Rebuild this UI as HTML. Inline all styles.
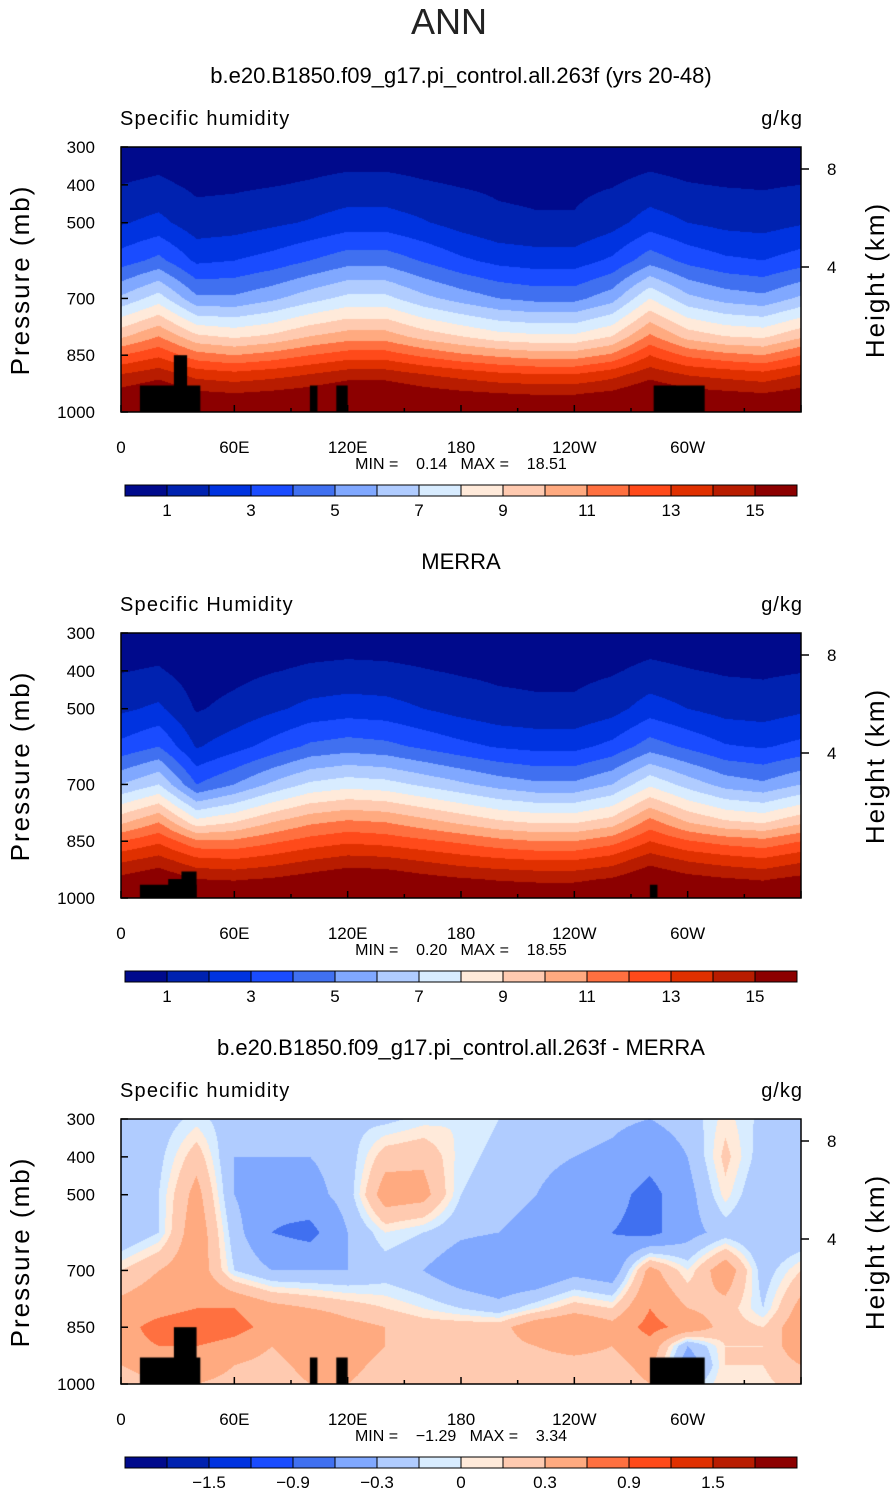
<!DOCTYPE html>
<html><head><meta charset="utf-8">
<style>
html,body{margin:0;padding:0;background:#fff;}
#root{position:relative;width:895px;height:1493px;overflow:hidden;font-family:"Liberation Sans",sans-serif;}
canvas{position:absolute;}
svg{position:absolute;left:0;top:0;}
svg text{white-space:pre;}
</style></head>
<body>
<div id="root">
<canvas id="c0" width="680" height="265" style="left:121px;top:147px"></canvas>
<canvas id="c1" width="680" height="265" style="left:121px;top:633px"></canvas>
<canvas id="c2" width="680" height="265" style="left:121px;top:1119px"></canvas>
<svg id="ov" width="895" height="1493"></svg>
</div>
<script>
const lons=[0,20,40,60,80,100,120,140,160,180,200,220,240,260,280,300,320,340,360];
const pres=[300,400,500,600,700,800,850,900,950,1000];
const modelQ=[
[.36,.44,.28,.3,.34,.4,.44,.44,.4,.36,.32,.3,.3,.34,.44,.38,.34,.32,.36],
[1.0,1.2,.8,.85,.95,1.1,1.3,1.3,1.1,.95,.85,.8,.8,.95,1.3,1.05,.95,.9,1.0],
[1.9,2.3,1.4,1.5,1.8,2.1,2.5,2.5,2.1,1.6,1.2,1.1,1.1,1.6,2.5,2.0,1.7,1.6,1.9],
[3.5,4.3,2.8,3.0,3.4,4.0,4.6,4.6,3.9,3.2,2.7,2.5,2.5,3.2,4.6,3.7,3.2,3.0,3.5],
[6.2,7.5,5.2,5.2,5.8,6.6,7.3,7.3,6.3,5.6,5.0,4.7,4.7,5.6,8.0,6.3,5.6,5.3,6.2],
[9.8,11.0,9.2,8.8,9.2,10.0,10.5,10.5,9.6,9.0,8.4,8.2,8.2,9.0,11.2,9.6,9.0,8.8,9.8],
[12.0,12.8,11.4,11.0,11.4,12.0,12.5,12.5,11.8,11.2,10.8,10.5,10.5,11.2,13.0,11.8,11.3,11.0,12.0],
[14.0,14.6,13.6,13.3,13.6,14.0,14.5,14.5,14.0,13.6,13.2,13.0,13.0,13.6,14.6,13.9,13.6,13.3,14.0],
[15.4,16.0,15.2,15.0,15.2,15.5,16.0,16.0,15.5,15.2,15.0,14.9,14.9,15.2,16.0,15.4,15.2,15.0,15.4],
[16.5,16.8,16.4,16.2,16.4,16.6,16.8,16.8,16.6,16.3,16.1,16.0,16.0,16.3,16.8,16.5,16.3,16.2,16.5]];
const merraQ=[
[.34,.4,.2,.26,.34,.42,.44,.42,.38,.34,.3,.28,.28,.34,.44,.38,.32,.3,.34],
[.95,1.1,.5,.7,.95,1.15,1.25,1.2,1.05,.9,.8,.75,.75,.9,1.25,1.05,.9,.85,.95],
[1.8,2.2,.9,1.3,1.8,2.3,2.5,2.4,2.0,1.6,1.3,1.2,1.2,1.6,2.5,2.0,1.6,1.5,1.8],
[3.3,4.0,1.9,2.6,3.4,4.2,4.5,4.3,3.8,3.3,2.9,2.7,2.7,3.3,4.5,3.8,3.1,2.9,3.3],
[6.0,7.0,4.0,5.0,6.2,7.2,7.6,7.4,6.8,6.2,5.6,5.2,5.2,6.0,7.8,6.6,5.6,5.2,6.0],
[9.8,11.0,8.4,9.0,10.0,10.8,11.2,11.0,10.4,9.8,9.2,8.9,8.9,9.5,11.4,10.0,9.2,8.9,9.8],
[12.0,12.8,11.2,11.2,11.8,12.4,12.8,12.6,12.2,11.8,11.3,11.0,11.0,11.6,13.0,12.1,11.6,11.3,12.0],
[13.8,14.4,13.3,13.1,13.5,14.0,14.4,14.3,13.9,13.5,13.2,13.0,13.0,13.5,14.6,13.9,13.5,13.2,13.8],
[15.3,15.9,15.0,14.9,15.1,15.5,15.9,15.8,15.4,15.1,14.9,14.8,14.8,15.1,16.0,15.4,15.1,14.9,15.3],
[16.4,16.7,16.3,16.1,16.3,16.6,16.8,16.7,16.5,16.2,16.0,15.9,15.9,16.2,16.8,16.4,16.2,16.1,16.4]];
const diffQ=[
[-0.2,-0.2,-0.05,-0.2,-0.2,-0.2,-0.15,-0.15,-0.05,0.0,-0.1,-0.15,-0.2,-0.25,-0.3,-0.2,0.05,-0.15,-0.2],
[-0.2,-0.15,0.2,-0.3,-0.3,-0.3,-0.2,0.2,0.25,-0.05,-0.15,-0.2,-0.3,-0.35,-0.5,-0.3,0.15,-0.2,-0.2],
[-0.25,-0.1,0.4,-0.3,-0.5,-0.4,-0.2,0.45,0.4,-0.1,-0.2,-0.3,-0.5,-0.5,-0.7,-0.4,0.05,-0.3,-0.25],
[-0.3,-0.1,0.5,-0.2,-0.6,-0.7,-0.3,0.0,-0.1,-0.25,-0.3,-0.4,-0.6,-0.6,-0.7,-0.4,-0.2,-0.3,-0.3],
[0.1,0.3,0.5,-0.1,-0.3,-0.3,-0.3,-0.2,-0.3,-0.5,-0.6,-0.6,-0.4,-0.5,0.4,0.0,0.5,-0.2,0.1],
[0.4,0.5,0.6,0.6,0.4,0.3,0.2,0.1,0.0,-0.1,-0.2,0.0,0.2,0.1,0.6,0.3,0.2,-0.1,0.4],
[0.5,0.7,0.8,0.7,0.5,0.6,0.4,0.3,0.2,0.2,0.2,0.5,0.6,0.4,0.7,0.5,0.2,0.1,0.5],
[0.5,0.6,0.6,0.5,0.3,0.5,0.5,0.3,0.2,0.2,0.2,0.3,0.4,0.3,0.5,-0.3,0.1,0.1,0.5],
[0.3,0.4,0.5,0.3,0.2,0.4,0.4,0.2,0.15,0.15,0.15,0.2,0.2,0.2,0.4,-0.5,0.1,0.1,0.3],
[0.2,0.3,0.3,0.2,0.15,0.3,0.3,0.15,0.1,0.1,0.1,0.15,0.15,0.15,0.3,-0.2,0.1,0.05,0.2]];
const qLevels=[1,2,3,4,5,6,7,8,9,10,11,12,13,14,15];
const dLevels=[-1.8,-1.5,-1.2,-0.9,-0.6,-0.3,-0.1,0,0.1,0.3,0.6,0.9,1.2,1.5,1.8];
const qLabels=["1","3","5","7","9","11","13","15"];
const qLabelIdx=[1,3,5,7,9,11,13,15];
const dLabels=["\u22121.5","\u22120.9","\u22120.3","0","0.3","0.9","1.5"];
const dLabelIdx=[2,4,6,8,10,12,14];
const xTickLabels=["0","60E","120E","180","120W","60W"];
const xTickLons=[0,60,120,180,240,300];
const pTicks=[300,400,500,700,850,1000];
const topoModel=[[10,42,930],[28,35,850],[100,104,930],[114,120,930],[282,309,930]];
const topoMerra=[[10,40,965],[25,38,950],[32,40,930],[280,284,965]];
const topoDiff=[[10,42,930],[28,40,850],[100,104,930],[114,120,930],[280,309,930]];
const colors=["#000a8c","#0022b0","#0033e0","#1a4cff","#4070f0","#80a8ff","#b0ccff","#d8ecff","#ffeada","#ffcab0","#ffaa80","#ff7040","#ff4a1a","#e03000","#b81c00","#8c0000"];

const W=680,H=265,X0=121;
const xs=l=>l/360*W, ys=p=>(p-300)/700*H;
function hex(c){return [parseInt(c.slice(1,3),16),parseInt(c.slice(3,5),16),parseInt(c.slice(5,7),16)];}
const rgb=colors.map(hex);
function interp(grid,lon,p){
  let i=Math.min(17,Math.floor(lon/20)); let fx=(lon-lons[i])/20;
  let j=0; while(j<8&&pres[j+1]<p) j++;
  let fy=(p-pres[j])/(pres[j+1]-pres[j]);
  const a=grid[j][i],b=grid[j][i+1],c=grid[j+1][i],d=grid[j+1][i+1];
  return (a*(1-fx)+b*fx)*(1-fy)+(c*(1-fx)+d*fx)*fy;
}
function drawField(id,grid,levels,topo){
  const cv=document.getElementById(id),ctx=cv.getContext('2d');
  const img=ctx.createImageData(W,H);
  for(let y=0;y<H;y++){const p=300+(y+0.5)/H*700;
    for(let x=0;x<W;x++){const lon=(x+0.5)/W*360;
      const v=interp(grid,lon,p); let k=0; while(k<levels.length&&v>=levels[k])k++;
      const c=rgb[k],o=(y*W+x)*4; img.data[o]=c[0];img.data[o+1]=c[1];img.data[o+2]=c[2];img.data[o+3]=255;}}
  ctx.putImageData(img,0,0);
  ctx.fillStyle="#000";
  topo.forEach(t=>{ctx.fillRect(xs(t[0]),ys(t[2]),xs(t[1])-xs(t[0]),H-ys(t[2]));});
}
drawField('c0',modelQ,qLevels,topoModel);
drawField('c1',merraQ,qLevels,topoMerra);
drawField('c2',diffQ,dLevels,topoDiff);

const svg=document.getElementById('ov'),NS="http://www.w3.org/2000/svg";
function el(tag,attrs,txt){const e=document.createElementNS(NS,tag);for(const k in attrs)e.setAttribute(k,attrs[k]);if(txt!==undefined)e.textContent=txt;svg.appendChild(e);return e;}
let t=el('text',{x:449,y:34,'font-size':36,'text-anchor':'middle',fill:'#222'},'ANN');


const titles=["b.e20.B1850.f09_g17.pi_control.all.263f (yrs 20-48)","MERRA","b.e20.B1850.f09_g17.pi_control.all.263f - MERRA"];
const tops=[147,633,1119];
const subs=["Specific humidity","Specific Humidity","Specific humidity"];
const minmax=[["0.14","18.51"],["0.20","18.55"],["\u22121.29","3.34"]];
tops.forEach((T,n)=>{
  let e=el('text',{x:461,y:T-64,'font-size':22,'text-anchor':'middle'},titles[n]);
  
  
  e=el('text',{x:120,y:T-22,'font-size':20,'letter-spacing':'1.2'},subs[n]);
  
  
  e=el('text',{x:803,y:T-22,'font-size':20,'text-anchor':'end','letter-spacing':'1'},'g/kg');
  
  
  e=el('rect',{x:X0,y:T,width:W,height:H,fill:'none',stroke:'#000','stroke-width':1.5});
  
  
  pTicks.forEach(p=>{
    const y=T+ys(p);
    let a=el('line',{x1:X0,x2:X0+7,y1:y,y2:y,stroke:'#000','stroke-width':1.5});
    
    
    a=el('text',{x:95,y:y+6,'font-size':17,'text-anchor':'end'},String(p));
    
    
  });
  [[8,22],[4,120]].forEach(h=>{
    let a=el('line',{x1:X0+W,x2:X0+W+8,y1:T+h[1],y2:T+h[1],stroke:'#000','stroke-width':1.5});
    
    
    a=el('text',{x:827,y:T+h[1]+6,'font-size':17},String(h[0]));
    
    
  });
  for(let l=0;l<=360;l+=30){
    let a=el('line',{x1:X0+xs(l),x2:X0+xs(l),y1:T+H,y2:T+H-(l%60?4:7),stroke:'#000','stroke-width':1.5});
    
    
  }
  xTickLons.forEach((l,i)=>{
    let a=el('text',{x:X0+xs(l),y:T+H+41,'font-size':17,'text-anchor':'middle'},xTickLabels[i]);
    
    
  });
  e=el('text',{x:461,y:T+H+57,'font-size':16,'text-anchor':'middle'},"MIN =    "+minmax[n][0]+"   MAX =    "+minmax[n][1]);
  
  
  e=el('text',{x:0,y:0,'font-size':26,'text-anchor':'middle','letter-spacing':'2',transform:`translate(29,${T+133}) rotate(-90)`},'Pressure (mb)');
  
  
  e=el('text',{x:0,y:0,'font-size':26,'text-anchor':'middle','letter-spacing':'2',transform:`translate(884,${T+133}) rotate(-90)`},'Height (km)');
  
  
  const CB=T+338;
  colors.forEach((c,i)=>{
    let a=el('rect',{x:125+i*42,y:CB,width:42,height:11,fill:c,stroke:'#000','stroke-width':1});
    
    
  });
  const labs=n<2?qLabels:dLabels, idx=n<2?qLabelIdx:dLabelIdx;
  labs.forEach((s,i)=>{
    let a=el('text',{x:125+idx[i]*42,y:CB+31,'font-size':17,'text-anchor':'middle'},s);
    
    
  });
});
</script>
</body></html>
